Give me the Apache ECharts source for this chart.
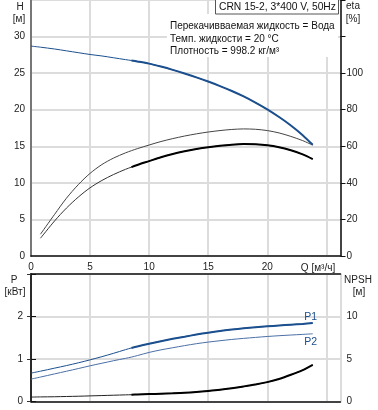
<!DOCTYPE html>
<html><head><meta charset="utf-8">
<script src="https://cdn.jsdelivr.net/npm/echarts@6/dist/echarts.min.js"></script>
<style>html,body{margin:0;padding:0;background:#fff}#c{width:378px;height:410px}</style>
</head><body><div id="c"></div>
<script>
// ---- data ----
const q        = [0, 0.8, 2, 3, 4, 5, 6, 7, 8, 8.5, 9, 10, 11, 12, 13, 14, 15, 16, 17, 18, 19, 20, 21, 22, 23, 23.85];
const head     = [28.7, 28.55, 28.3, 28.05, 27.8, 27.55, 27.35, 27.1, 26.85, 26.73, 26.6, 26.3, 25.9, 25.45, 24.95, 24.42, 23.85, 23.23, 22.56, 21.82, 20.98, 20.05, 19.0, 17.85, 16.52, 15.2];
const etaPump  = [null, 9.7, 19.2, 26.2, 32.2, 37.3, 41.3, 44.6, 47.4, 48.6, 49.8, 51.9, 54.0, 55.8, 57.3, 58.5, 59.5, 60.3, 60.9, 61.2, 61.1, 60.6, 59.5, 57.8, 55.6, 53.0];
const etaTotal = [null, 11.9, 22.8, 31.6, 39.0, 45.2, 50.0, 53.6, 56.4, 57.6, 58.7, 60.7, 62.6, 64.2, 65.6, 66.8, 67.8, 68.6, 69.2, 69.5, 69.3, 68.6, 67.3, 65.4, 63.1, 60.6];
const p1       = [0.668, 0.713, 0.785, 0.845, 0.91, 0.98, 1.055, 1.135, 1.22, 1.26, 1.295, 1.36, 1.42, 1.475, 1.525, 1.575, 1.62, 1.66, 1.693, 1.722, 1.747, 1.768, 1.788, 1.807, 1.826, 1.845];
const p2       = [0.527, 0.575, 0.65, 0.712, 0.775, 0.84, 0.9, 0.96, 1.015, 1.045, 1.08, 1.155, 1.215, 1.265, 1.315, 1.36, 1.398, 1.43, 1.46, 1.485, 1.508, 1.53, 1.548, 1.564, 1.579, 1.593];
const npsh     = [0.52, 0.54, 0.56, 0.59, 0.62, 0.66, 0.7, 0.74, 0.78, 0.8, 0.82, 0.87, 0.92, 0.97, 1.03, 1.12, 1.24, 1.38, 1.56, 1.77, 2.0, 2.28, 2.65, 3.14, 3.7, 4.32];
const opStart = 8.5;
const xTicks = [0, 5, 10, 15, 20];
const hTicks = [0, 5, 10, 15, 20, 25, 30];
const etaTicks = [0, 20, 40, 60, 80, 100];
const pTicks = [0, 1, 2];
const npshTicks = [0, 5, 10];
const title = 'CRN 15-2, 3*400 V, 50Hz';
const infoLines = ['Перекачивваемая жидкость = Вода', 'Темп. жидкости = 20 °C', 'Плотность = 998.2 кг/м³'];

function pts(vals, from) {
  const out = [];
  q.forEach((x, i) => { if (vals[i] != null && x >= (from || 0)) out.push([x, vals[i]]); });
  return out;
}
const FONT = '"Liberation Sans", Arial, sans-serif';
const BLUE = '#1b4f8e', BLUE2 = '#4a6fa5';
const gridLine = {show: true, lineStyle: {color: '#dcdcdc', width: 2}};
const lab = (ticks) => ({show: true, fontFamily: FONT, fontSize: 10, color: '#222',
  formatter: v => ticks.indexOf(v) >= 0 ? String(v) : ''});

const chart = echarts.init(document.getElementById('c'), null, {renderer: 'canvas'});
function line(name, xi, yi, data, color, width, z) {
  return {name, type: 'line', xAxisIndex: xi, yAxisIndex: yi, data, smooth: 0.3, symbol: 'none',
    lineStyle: {color, width}, z: z || 3, animation: false, silent: true};
}
const option = {
  animation: false,
  grid: [
    {left: 31, top: 0, width: 309.5, height: 256},
    {left: 31, top: 274, width: 309.5, height: 127.5}
  ],
  xAxis: [
    {gridIndex: 0, type: 'value', min: 0, max: 26.2, interval: 5,
     axisLine: {show: true, lineStyle: {color: '#111', width: 1.5}}, axisTick: {show: false},
     axisLabel: Object.assign(lab(xTicks), {margin: 6}), splitLine: gridLine},
    {gridIndex: 1, type: 'value', min: 0, max: 26.2, interval: 5,
     axisLine: {show: true, onZero: false, lineStyle: {color: '#111', width: 1.5}}, axisTick: {show: false},
     axisLabel: {show: false}, splitLine: gridLine},
    {gridIndex: 1, type: 'value', position: 'top', min: 0, max: 26.2, interval: 5,
     axisLine: {show: true, onZero: false, lineStyle: {color: '#111', width: 1.5}}, axisTick: {show: false},
     axisLabel: {show: false}, splitLine: {show: false}}
  ],
  yAxis: [
    {gridIndex: 0, type: 'value', min: 0, max: 35, interval: 5,
     axisLine: {show: true, lineStyle: {color: '#777', width: 2}}, axisTick: {show: false},
     axisLabel: Object.assign(lab(hTicks), {margin: 6}), splitLine: gridLine},
    {gridIndex: 0, type: 'value', position: 'right', min: 0, max: 140, interval: 20,
     axisLine: {show: true, lineStyle: {color: '#111', width: 1.5}},
     axisTick: {show: true, length: 5, lineStyle: {color: '#111'}, interval: (i, v) => etaTicks.indexOf(+v) >= 0},
     axisLabel: Object.assign(lab(etaTicks), {margin: 6}), splitLine: {show: false}},
    {gridIndex: 1, type: 'value', min: 0, max: 3, interval: 1,
     axisLine: {show: true, lineStyle: {color: '#777', width: 2}},
     axisTick: {show: true, length: 4, lineStyle: {color: '#333'}, interval: (i, v) => pTicks.indexOf(+v) >= 0},
     axisLabel: Object.assign(lab(pTicks), {margin: 8}), splitLine: gridLine},
    {gridIndex: 1, type: 'value', position: 'right', min: 0, max: 15, interval: 5,
     axisLine: {show: true, lineStyle: {color: '#111', width: 1.5}},
     axisTick: {show: true, length: 5, lineStyle: {color: '#111'}, interval: (i, v) => npshTicks.indexOf(+v) >= 0},
     axisLabel: Object.assign(lab(npshTicks), {margin: 6}), splitLine: {show: false}}
  ],
  series: [
    line('H', 0, 0, pts(head), BLUE, 1),
    line('H op', 0, 0, pts(head, opStart), BLUE, 2, 4),
    line('eta total', 0, 1, pts(etaTotal), '#444', 1),
    line('eta', 0, 1, pts(etaPump), '#333', 1),
    line('eta op', 0, 1, pts(etaPump, opStart), '#000', 2, 4),
    line('P1', 1, 2, pts(p1), BLUE, 1),
    line('P1 op', 1, 2, pts(p1, opStart), BLUE, 2, 4),
    line('P2', 1, 2, pts(p2), BLUE2, 1),
    line('NPSH', 1, 3, pts(npsh), '#222', 1),
    line('NPSH op', 1, 3, pts(npsh, opStart), '#000', 2, 4)
  ],
  graphic: [
    {type: 'rect', shape: {x: 167, y: 14, width: 171, height: 43}, style: {fill: '#fff'}, z: 10},
    {type: 'rect', shape: {x: 215.5, y: -1, width: 123, height: 15}, style: {fill: '#fff', stroke: '#555', lineWidth: 1}, z: 10},
    {type: 'text', x: 219, y: 7, style: {text: title, font: '10.3px ' + FONT, fill: '#111', textVerticalAlign: 'middle'}, z: 11},
    ...infoLines.map((t, i) => ({type: 'text', x: 170, y: 26.7 + i * 12.2,
      style: {text: t, font: '10px ' + FONT, fill: '#111', textVerticalAlign: 'middle'}, z: 11})),
    {type: 'text', x: 20, y: 7, style: {text: 'H', font: '10px ' + FONT, fill: '#222', textAlign: 'center', textVerticalAlign: 'middle'}},
    {type: 'text', x: 19, y: 19, style: {text: '[м]', font: '10px ' + FONT, fill: '#222', textAlign: 'center', textVerticalAlign: 'middle'}},
    {type: 'text', x: 353, y: 6.5, style: {text: 'eta', font: '10px ' + FONT, fill: '#222', textAlign: 'center', textVerticalAlign: 'middle'}},
    {type: 'text', x: 353, y: 19, style: {text: '[%]', font: '10px ' + FONT, fill: '#222', textAlign: 'center', textVerticalAlign: 'middle'}},
    {type: 'text', x: 318, y: 268.3, style: {text: 'Q [м³/ч]', font: '10px ' + FONT, fill: '#222', textAlign: 'center', textVerticalAlign: 'middle'}},
    {type: 'text', x: 14, y: 280, style: {text: 'P', font: '10px ' + FONT, fill: '#222', textAlign: 'center', textVerticalAlign: 'middle'}},
    {type: 'text', x: 15, y: 292, style: {text: '[кВт]', font: '10px ' + FONT, fill: '#222', textAlign: 'center', textVerticalAlign: 'middle'}},
    {type: 'text', x: 358, y: 280.5, style: {text: 'NPSH', font: '10px ' + FONT, fill: '#222', textAlign: 'center', textVerticalAlign: 'middle'}},
    {type: 'text', x: 359, y: 292, style: {text: '[м]', font: '10px ' + FONT, fill: '#222', textAlign: 'center', textVerticalAlign: 'middle'}},
    {type: 'text', x: 310.7, y: 317.3, style: {text: 'P1', font: '10.5px ' + FONT, fill: BLUE, textAlign: 'center', textVerticalAlign: 'middle'}, z: 11},
    {type: 'text', x: 310.7, y: 341.7, style: {text: 'P2', font: '10.5px ' + FONT, fill: BLUE, textAlign: 'center', textVerticalAlign: 'middle'}, z: 11}
  ]
};
chart.setOption(option);
</script></body></html>
